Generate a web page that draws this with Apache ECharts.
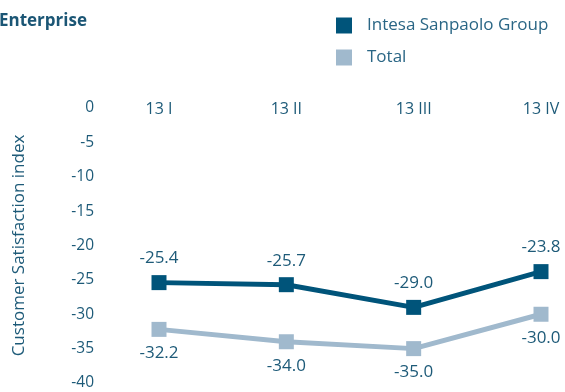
<!DOCTYPE html>
<html>
<head>
<meta charset="utf-8">
<script src="https://cdn.jsdelivr.net/npm/echarts@6/dist/echarts.min.js"></script>
<style>
  html, body { margin: 0; padding: 0; background: #ffffff; }
  #chart { width: 565px; height: 392px; }
</style>
</head>
<body>
<div id="chart"></div>
<script>
// Quarterly customer satisfaction, Enterprise segment
const quarters = ['13 I', '13 II', '13 III', '13 IV'];
const intesaValues = [-25.4, -25.7, -29.0, -23.8];
const totalValues = [-32.2, -34.0, -35.0, -30.0];
const seriesNames = ['Intesa Sanpaolo Group', 'Total'];

const textColor = '#1d5a78';
const darkColor = '#00547a';
const lightColor = '#a0b9cd';
const fontFamily = '"Open Sans", "Noto Sans", sans-serif';

const chart = echarts.init(document.getElementById('chart'));

chart.setOption({
  animation: false,
  backgroundColor: '#ffffff',
  textStyle: { fontFamily: fontFamily, color: textColor },
  title: {
    text: 'Enterprise',
    left: -6,
    top: 8,
    textStyle: { fontFamily: fontFamily, fontSize: 17, fontWeight: 'bold', color: '#1b5675' }
  },
  legend: {
    orient: 'vertical',
    left: 336,
    top: 17,
    padding: 0,
    itemWidth: 16,
    itemHeight: 16,
    itemGap: 15,
    icon: 'rect',
    data: seriesNames,
    textStyle: { fontFamily: fontFamily, fontSize: 17, color: '#2a6685', padding: [0, 0, 0, 10] }
  },
  grid: { left: 159, right: 24, top: 108, bottom: 9 },
  xAxis: {
    type: 'category',
    position: 'top',
    boundaryGap: false,
    data: quarters,
    axisLine: { show: false },
    axisTick: { show: false },
    splitLine: { show: false },
    axisLabel: { margin: -9, fontSize: 16, color: textColor, fontFamily: fontFamily }
  },
  yAxis: {
    type: 'value',
    min: -40,
    max: 0,
    interval: 5,
    axisLine: { show: false },
    axisTick: { show: false },
    splitLine: { show: false },
    axisLabel: { margin: 65, fontSize: 15.5, color: textColor, fontFamily: fontFamily },
    name: 'Customer Satisfaction index',
    nameLocation: 'middle',
    nameRotate: 90,
    nameGap: 131,
    nameTextStyle: { fontSize: 17, color: textColor, fontFamily: fontFamily }
  },
  series: [
    {
      name: seriesNames[0],
      type: 'line',
      data: intesaValues,
      symbol: 'rect',
      symbolSize: 15,
      itemStyle: { color: darkColor },
      lineStyle: { color: darkColor, width: 5 },
      label: {
        show: true,
        position: 'top',
        distance: 8,
        fontSize: 17,
        color: textColor,
        fontFamily: fontFamily,
        formatter: p => p.value.toFixed(1)
      },
      z: 3
    },
    {
      name: seriesNames[1],
      type: 'line',
      data: totalValues,
      symbol: 'rect',
      symbolSize: 15,
      itemStyle: { color: lightColor },
      lineStyle: { color: lightColor, width: 5 },
      label: {
        show: true,
        position: 'bottom',
        distance: 8,
        fontSize: 17,
        color: textColor,
        fontFamily: fontFamily,
        formatter: p => p.value.toFixed(1)
      },
      z: 2
    }
  ]
});
</script>
</body>
</html>
